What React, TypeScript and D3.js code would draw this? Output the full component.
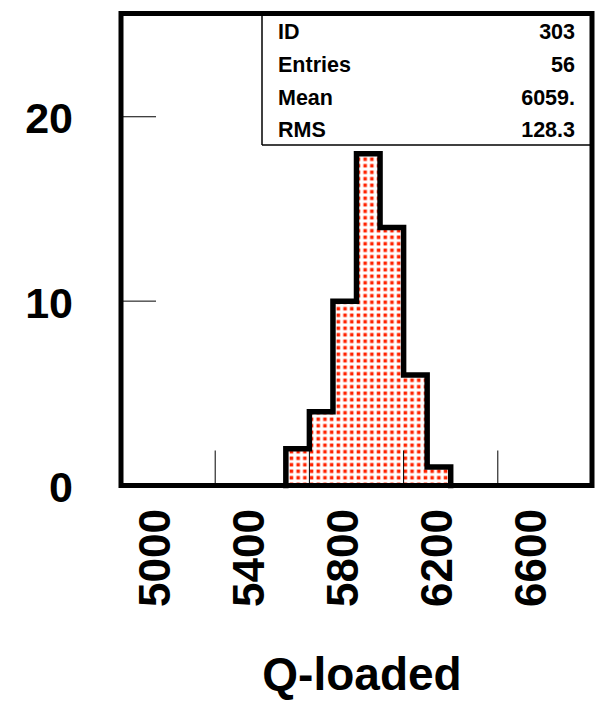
import React from "react";
import * as d3 from "d3";

const binLefts = [5700, 5800, 5900, 6000, 6100, 6200, 6300];
const counts = [2, 4, 10, 18, 14, 6, 1];
const binWidth = 100;
const xDomain = [5000, 7000];
const yDomain = [0, 25.6];
const xTicks = [5400, 5800, 6200, 6600];
const xLabels = [5000, 5400, 5800, 6200, 6600];
const yTicks = [10, 20];
const yLabels = [0, 10, 20];
const statNames = ["ID", "Entries", "Mean", "RMS"];
const statValues = ["303", "56", "6059.", "128.3"];
const xTitle = "Q-loaded";

const W = 607;
const H = 719;
const FONT = "'Liberation Sans', Arial, Helvetica, sans-serif";

export default function App() {
  const left = 121, right = 592, top = 13.5, bottom = 485.5;
  const x = d3.scaleLinear().domain(xDomain).range([left, right]);
  const y = d3.scaleLinear().domain(yDomain).range([bottom, top]);

  const pts: [number, number][] = [];
  binLefts.forEach((b, i) => {
    pts.push([x(b), y(counts[i])]);
    pts.push([x(b + binWidth), y(counts[i])]);
  });
  const first = binLefts[0];
  const last = binLefts[binLefts.length - 1] + binWidth;
  const all: [number, number][] = [[x(first), y(0)], ...pts, [x(last), y(0)]];
  const line = d3.line<[number, number]>().curve(d3.curveLinear);
  const outline = line(all) as string;

  const boxLeft = 262, boxBottom = 145;
  const rowBase = [39, 72, 104.5, 137];

  return (
    <svg width={W} height={H} style={{ position: "absolute", left: 0, top: 0, background: "#fff" }}
      fontFamily={FONT} fontWeight="bold">
      <defs>
        <pattern id="dots" patternUnits="userSpaceOnUse" width={6.7} height={6.5} x={0} y={0}>
          <rect width={6.7} height={6.5} fill="#fff" />
          <rect x={1.6} y={1.5} width={3.5} height={3.5} fill="#ff2200" />
        </pattern>
      </defs>
      <rect x={0} y={0} width={W} height={H} fill="#fff" />
      <path d={outline + "Z"} fill="url(#dots)" stroke="none" />
      <path d={outline} fill="none" stroke="#000" strokeWidth={5.5} strokeLinejoin="miter" strokeLinecap="square" />
      <line x1={boxLeft} x2={boxLeft} y1={top} y2={boxBottom} stroke="#000" strokeWidth={1.5} />
      <line x1={boxLeft} x2={right} y1={boxBottom} y2={boxBottom} stroke="#000" strokeWidth={1.5} />
      {statNames.map((n, i) => (
        <g key={n}>
          <text x={278} y={rowBase[i]} fontSize={21.5}>{n}</text>
          <text x={575} y={rowBase[i]} fontSize={21.5} textAnchor="end">{statValues[i]}</text>
        </g>
      ))}
      {xTicks.map((t) => (
        <line key={t} x1={x(t)} x2={x(t)} y1={bottom} y2={bottom - 35} stroke="#000" strokeWidth={1} />
      ))}
      {yTicks.map((t) => (
        <line key={t} x1={left} x2={left + 35} y1={y(t)} y2={y(t)} stroke="#000" strokeWidth={1} />
      ))}
      <rect x={left} y={top} width={right - left} height={bottom - top} fill="none" stroke="#000" strokeWidth={5} />
      {yLabels.map((t) => (
        <text key={t} x={73} y={y(t) + 16.5} fontSize={43} textAnchor="end">{t}</text>
      ))}
      {xLabels.map((t) => (
        <text key={t} fontSize={44} textAnchor="end"
          transform={`translate(${x(t) + 48.5},509) rotate(-90)`}>{t}</text>
      ))}
      <text x={362} y={690} fontSize={46} textAnchor="middle">{xTitle}</text>
    </svg>
  );
}
